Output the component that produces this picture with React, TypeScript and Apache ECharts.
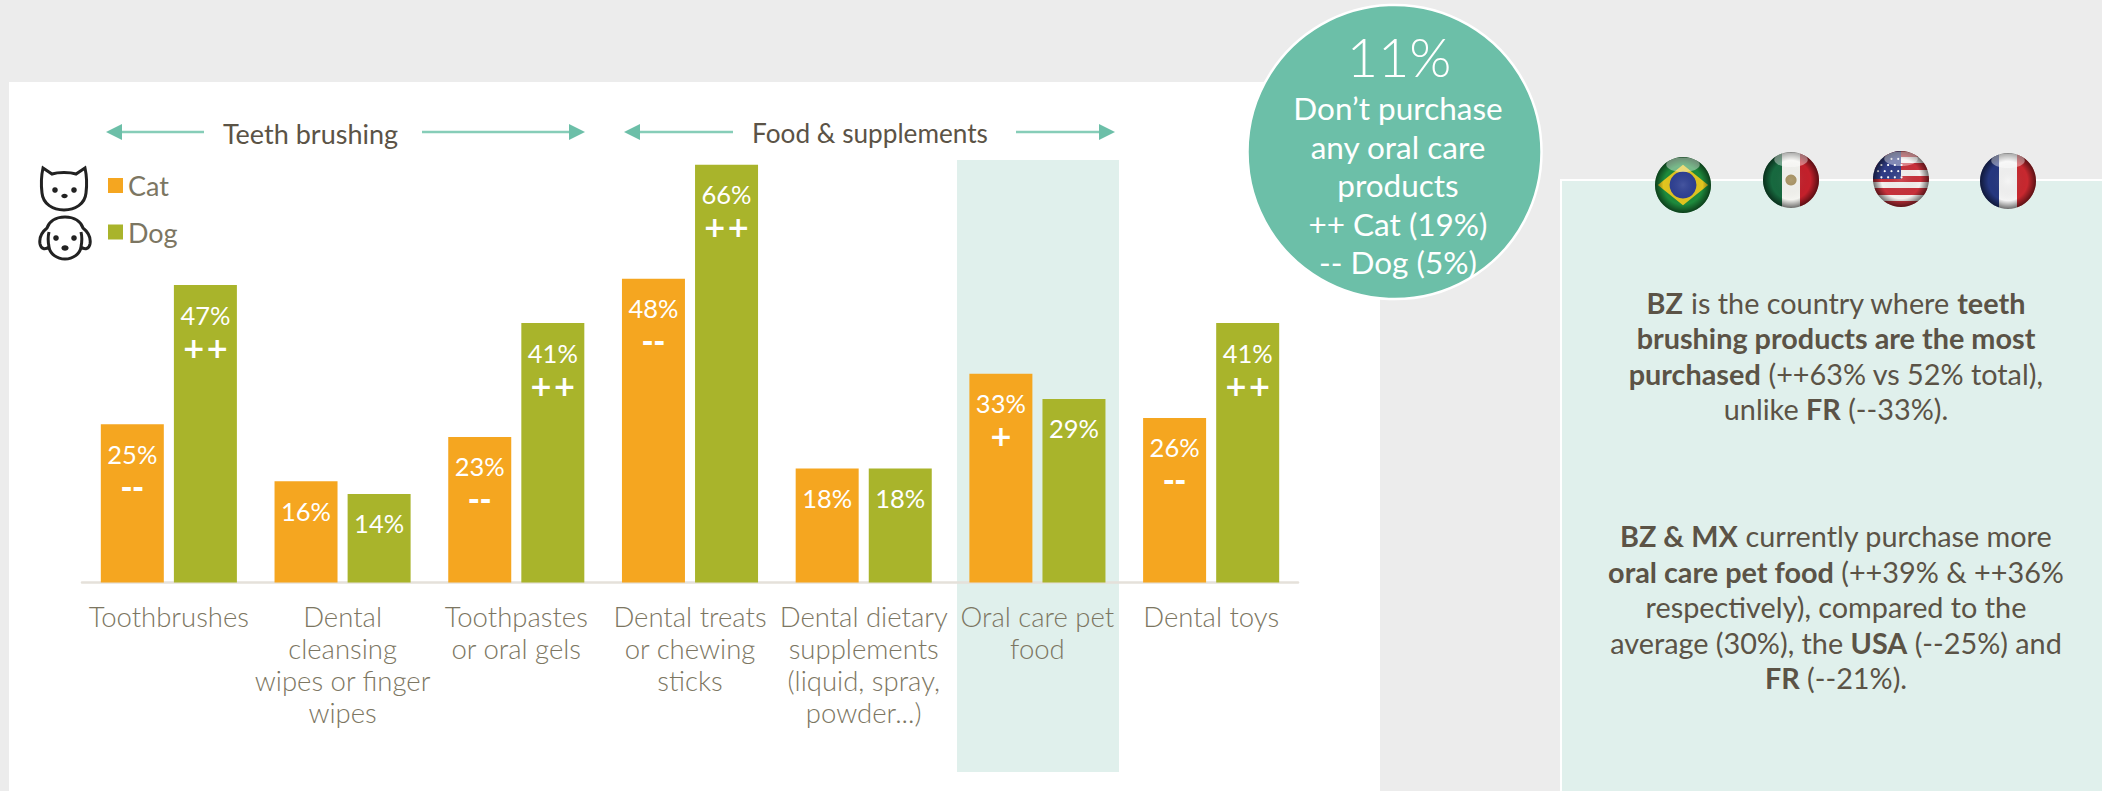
import React, { useEffect, useRef } from "react";
import * as echarts from "echarts";

const categories = [
  "Toothbrushes",
  "Dental\ncleansing\nwipes or finger\nwipes",
  "Toothpastes\nor oral gels",
  "Dental treats\nor chewing\nsticks",
  "Dental dietary\nsupplements\n(liquid, spray,\npowder...)",
  "Oral care pet\nfood",
  "Dental toys",
];
const catValues = [25, 16, 23, 48, 18, 33, 26];
const dogValues = [47, 14, 41, 66, 18, 29, 41];
const catSigns = ["--", "", "--", "--", "", "+", "--"];
const dogSigns = ["++", "", "++", "++", "", "", "++"];

const ORANGE = "#F5A620";
const GREEN = "#A9B42B";
const TEAL = "#6CBFA8";
const TEAL_LINE = "#86CDB8";
const PALE = "#E0F0EC";
const DARK = "#5B5346";
const MUTED = "#7C7662";
const FONT = "Lato";

const CAT_OUTLINE =
  "M2 1 L11 7 C17 5 29 5 35 7 L44 1 C46 10 46 18 45 26 C44 37 34 43 23 43 C12 43 2 37 1 26 C0 18 0 10 2 1 Z";
const DOG_OUTLINE =
  "M26 1 C16 1 10 6 8 12 C3 16 0 22 1 28 C2 33 6 34 10 31 C11 38 18 43 26 43 C34 43 41 38 42 31 C46 34 50 33 51 28 C52 22 49 16 44 12 C42 6 36 1 26 1 Z M10 31 C9 26 9 20 10 16 M42 31 C43 26 43 20 42 16";

echarts.graphic.registerShape("catFace", echarts.graphic.extendPath(CAT_OUTLINE, {}));
echarts.graphic.registerShape("dogFace", echarts.graphic.extendPath(DOG_OUTLINE, {}));

const hardStops = (colors: string[]) =>
  colors.flatMap((color, i) => [
    { offset: i / colors.length, color },
    { offset: (i + 1) / colors.length, color },
  ]);

// Glossy sphere shading laid over each flag disc.
const gloss = (cx: number, cy: number, r: number) => [
  {
    type: "circle",
    z: 7,
    shape: { cx, cy, r },
    style: {
      fill: new echarts.graphic.RadialGradient(0.5, 0.5, 0.5, [
        { offset: 0, color: "rgba(255,255,255,0.12)" },
        { offset: 0.7, color: "rgba(0,0,0,0)" },
        { offset: 1, color: "rgba(0,0,0,0.55)" },
      ]),
    },
  },
  {
    type: "ellipse",
    z: 7,
    shape: { cx, cy: cy - r * 0.72, rx: r * 0.6, ry: r * 0.26 },
    style: { fill: "rgba(255,255,255,0.4)" },
  },
];

const flagBrazil = (cx: number, cy: number, r: number) => [
  { type: "circle", z: 6, shape: { cx, cy, r }, style: { fill: "#1E8A3C" } },
  {
    type: "polygon",
    z: 6,
    shape: { points: [[cx - r * 0.9, cy], [cx, cy - r * 0.72], [cx + r * 0.9, cy], [cx, cy + r * 0.72]] },
    style: { fill: "#E2C51F" },
  },
  { type: "circle", z: 6, shape: { cx, cy, r: r * 0.48 }, style: { fill: "#2C3E92" } },
  ...gloss(cx, cy, r),
];

const flagMexico = (cx: number, cy: number, r: number) => [
  {
    type: "circle",
    z: 6,
    shape: { cx, cy, r },
    style: {
      fill: new echarts.graphic.LinearGradient(0, 0, 1, 0, hardStops(["#17693F", "#F4F4F0", "#C4202B"])),
    },
  },
  { type: "circle", z: 6, shape: { cx, cy, r: r * 0.2 }, style: { fill: "#A58F5E" } },
  ...gloss(cx, cy, r),
];

const flagUsa = (cx: number, cy: number, r: number) => {
  const stars: any[] = [];
  for (let row = 0; row < 4; row++) {
    for (let col = 0; col < 4; col++) {
      const sx = cx - r * 0.82 + col * r * 0.24 + (row % 2) * r * 0.12;
      const sy = cy - r * 0.72 + row * r * 0.22;
      if (Math.hypot(sx - cx, sy - cy) < r * 0.92) {
        stars.push({ type: "circle", z: 6, shape: { cx: sx, cy: sy, r: 1.1 }, style: { fill: "#FFFFFF" } });
      }
    }
  }
  return [
    {
      type: "circle",
      z: 6,
      shape: { cx, cy, r },
      style: {
        fill: new echarts.graphic.LinearGradient(
          0,
          0,
          0,
          1,
          hardStops(["#C8313B", "#F4F0EE", "#C8313B", "#F4F0EE", "#C8313B", "#F4F0EE", "#C8313B", "#F4F0EE", "#C8313B"])
        ),
      },
    },
    {
      type: "sector",
      z: 6,
      shape: { cx, cy, r, r0: 0, startAngle: Math.PI, endAngle: Math.PI * 1.5, clockwise: true },
      style: { fill: "#2F3C86" },
    },
    ...stars,
    ...gloss(cx, cy, r),
  ];
};

const flagFrance = (cx: number, cy: number, r: number) => [
  {
    type: "circle",
    z: 6,
    shape: { cx, cy, r },
    style: {
      fill: new echarts.graphic.LinearGradient(0, 0, 1, 0, hardStops(["#25377F", "#F4F4F4", "#C8282F"])),
    },
  },
  ...gloss(cx, cy, r),
];

const arrow = (x1: number, x2: number, y: number, dir: 1 | -1) => {
  // x1 is the free end of the shaft, x2 the tip of the head.
  const base = x2 - dir * 16;
  return [
    {
      type: "line",
      z: 3,
      shape: { x1, y1: y, x2: base, y2: y },
      style: { stroke: TEAL_LINE, lineWidth: 2.4 },
    },
    {
      type: "polygon",
      z: 3,
      shape: { points: [[x2, y], [base, y - 8], [base, y + 8]] },
      style: { fill: TEAL },
    },
  ];
};

const text = (x: number, y: number, value: string, size: number, fill: string, extra: any = {}) => ({
  type: "text",
  z: 8,
  x,
  y,
  style: {
    text: value,
    fill,
    fontFamily: FONT,
    fontSize: size,
    align: "center",
    verticalAlign: "middle",
    ...extra,
  },
});

const insightRich = {
  b: { fontFamily: FONT, fontSize: 28.8, fontWeight: "bold", fill: DARK, lineHeight: 35.5 },
  n: { fontFamily: FONT, fontSize: 28.8, fill: DARK, lineHeight: 35.5 },
};

const seriesLabel = (signs: string[]) => ({
  show: true,
  position: "insideTop" as const,
  distance: 14,
  formatter: (p: any) => `{v|${p.value}%}` + (signs[p.dataIndex] ? `\n{s|${signs[p.dataIndex]}}` : ""),
  rich: {
    v: { color: "#FFFFFF", fontFamily: FONT, fontSize: 25.5, lineHeight: 31 },
    // The wide DejaVu plus sign keeps the marks broad without a tall text box.
    s: { color: "#FFFFFF", fontFamily: "DejaVu Sans", fontSize: 28, lineHeight: 36, fontWeight: 700 },
  },
});

export default function App() {
  const ref = useRef<HTMLDivElement>(null);

  useEffect(() => {
    document.body.style.margin = "0";
    const chart = echarts.init(ref.current!, undefined, { renderer: "svg" });
    chart.setOption({
      animation: false,
      backgroundColor: "#ECECEC",
      textStyle: { fontFamily: FONT },
      grid: { left: 82, right: 804, top: 139.5, bottom: 208.5 },
      legend: {
        orient: "vertical",
        left: 108,
        top: 172,
        padding: 0,
        itemWidth: 15,
        itemHeight: 15,
        itemGap: 19.5,
        icon: "rect",
        textStyle: { color: MUTED, fontFamily: FONT, fontSize: 27 },
        data: ["Cat", "Dog"],
      },
      xAxis: {
        type: "category",
        data: categories,
        axisTick: { show: false },
        axisLine: { lineStyle: { color: "#E5E1DA", width: 2.5 } },
        axisLabel: {
          color: MUTED,
          fontFamily: FONT,
          fontSize: 27.5,
          fontWeight: 300,
          lineHeight: 32,
          margin: 18,
          interval: 0,
        },
      },
      yAxis: { type: "value", min: 0, max: 70, show: false },
      series: [
        {
          name: "Cat",
          type: "bar",
          z: 3,
          data: catValues,
          barWidth: 63,
          barGap: "16%",
          itemStyle: { color: ORANGE },
          label: seriesLabel(catSigns),
        },
        {
          name: "Dog",
          type: "bar",
          z: 3,
          data: dogValues,
          barWidth: 63,
          itemStyle: { color: GREEN },
          label: seriesLabel(dogSigns),
        },
      ],
      graphic: [
        { type: "rect", z: -10, shape: { x: 9, y: 82, width: 1371, height: 720 }, style: { fill: "#FFFFFF" } },
        { type: "rect", z: -9, shape: { x: 957, y: 160, width: 162, height: 612 }, style: { fill: PALE } },
        {
          type: "rect",
          z: -10,
          shape: { x: 1561, y: 180, width: 560, height: 640 },
          style: { fill: PALE, stroke: "#FFFFFF", lineWidth: 2 },
        },

        ...arrow(204, 106, 132, -1),
        ...arrow(422, 585, 132, 1),
        ...arrow(733, 624, 132, -1),
        ...arrow(1016, 1115, 132, 1),
        text(310.5, 133, "Teeth brushing", 27, DARK),
        text(870, 133, "Food & supplements", 26.2, DARK),

        {
          type: "catFace",
          x: 41,
          y: 167,
          z: 4,
          style: { fill: "none", stroke: "#222222", lineWidth: 3 },
        },
        { type: "circle", z: 4, shape: { cx: 55, cy: 190, r: 2.8 }, style: { fill: "#222222" } },
        { type: "circle", z: 4, shape: { cx: 74, cy: 190, r: 2.8 }, style: { fill: "#222222" } },
        { type: "ellipse", z: 4, shape: { cx: 64.5, cy: 196, rx: 3.2, ry: 2.2 }, style: { fill: "#222222" } },
        {
          type: "dogFace",
          x: 39,
          y: 216,
          z: 4,
          style: { fill: "none", stroke: "#222222", lineWidth: 3 },
        },
        { type: "circle", z: 4, shape: { cx: 56, cy: 238, r: 2.8 }, style: { fill: "#222222" } },
        { type: "circle", z: 4, shape: { cx: 74, cy: 238, r: 2.8 }, style: { fill: "#222222" } },
        { type: "ellipse", z: 4, shape: { cx: 65, cy: 248, rx: 3.6, ry: 2.8 }, style: { fill: "#222222" } },

        {
          type: "circle",
          z: 5,
          shape: { cx: 1394.5, cy: 152, r: 147 },
          style: { fill: TEAL, stroke: "#FFFFFF", lineWidth: 2.5 },
        },
        text(1399, 56, "11%", 54, "#FFFFFF", { fontWeight: 300 }),
        text(1398, 185, "Don’t purchase\nany oral care\nproducts\n++ Cat (19%)\n-- Dog (5%)", 31.5, "#FFFFFF", {
          lineHeight: 38.5,
        }),

        ...flagBrazil(1683, 185, 28),
        ...flagMexico(1791, 180, 28),
        ...flagUsa(1901, 179, 28),
        ...flagFrance(2008, 181, 28),

        {
          ...text(
            1836,
            356,
            "{b|BZ}{n| is the country where }{b|teeth}\n{b|brushing products are the most}\n{b|purchased}{n| (++63% vs 52% total),}\n{n|unlike }{b|FR}{n| (--33%).}",
            28.8,
            DARK,
            { rich: insightRich }
          ),
        },
        {
          ...text(
            1836,
            607,
            "{b|BZ & MX}{n| currently purchase more}\n{b|oral care pet food}{n| (++39% & ++36%}\n{n|respectively), compared to the}\n{n|average (30%), the }{b|USA}{n| (--25%) and}\n{b|FR}{n| (--21%).}",
            28.8,
            DARK,
            { rich: insightRich }
          ),
        },
      ],
    });
    return () => chart.dispose();
  }, []);

  return <div ref={ref} style={{ position: "absolute", left: 0, top: 0, width: 2102, height: 791 }} />;
}
